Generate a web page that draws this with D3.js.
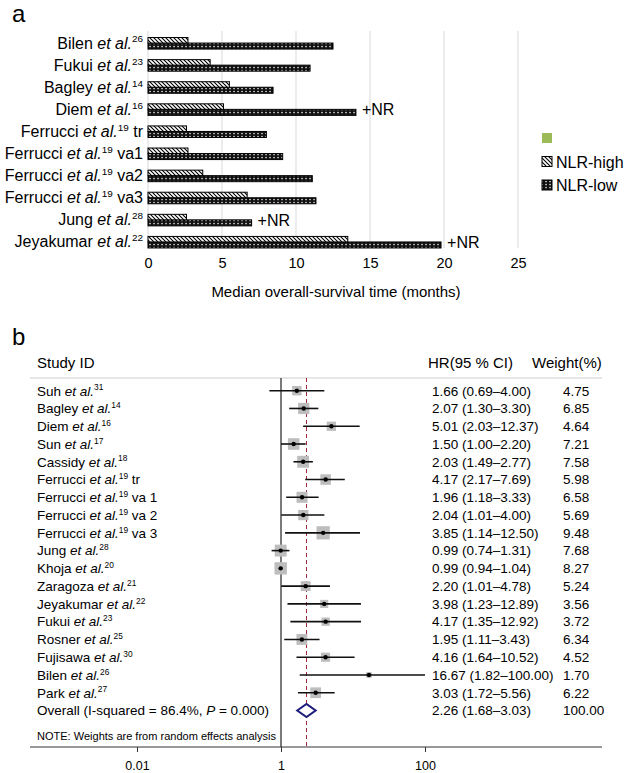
<!DOCTYPE html>
<html>
<head>
<meta charset="utf-8">
<script src="https://cdn.jsdelivr.net/npm/d3@7"></script>
<style>
  body { margin: 0; background: #fff; }
  svg { font-family: "Liberation Sans", Arial, Helvetica, sans-serif; }
</style>
</head>
<body>
<script>
// ---- panel a: median overall survival ----
const survAuthors = ["Bilen", "Fukui", "Bagley", "Diem", "Ferrucci", "Ferrucci", "Ferrucci", "Ferrucci", "Jung", "Jeyakumar"];
const survRefs = ["26", "23", "14", "16", "19", "19", "19", "19", "28", "22"];
const survSuffix = ["", "", "", "", "tr", "va1", "va2", "va3", "", ""];
const nlrHigh = [2.7, 4.2, 5.5, 5.1, 2.6, 2.7, 3.7, 6.7, 2.6, 13.5];
const nlrLow = [12.5, 10.95, 8.45, 14.05, 8.0, 9.1, 11.1, 11.35, 7.0, 19.8];
const notReached = [false, false, false, true, false, false, false, false, true, true];
const survTicks = [0, 5, 10, 15, 20, 25];
const legendLabels = ["", "NLR-high", "NLR-low"];

// ---- panel b: forest plot ----
const studyAuthors = ["Suh", "Bagley", "Diem", "Sun", "Cassidy", "Ferrucci", "Ferrucci", "Ferrucci", "Ferrucci",
  "Jung", "Khoja", "Zaragoza", "Jeyakumar", "Fukui", "Rosner", "Fujisawa", "Bilen", "Park"];
const studyRefs = ["31", "14", "16", "17", "18", "19", "19", "19", "19", "28", "20", "21", "22", "23", "25", "30", "26", "27"];
const studySuffix = ["", "", "", "", "", "tr", "va 1", "va 2", "va 3", "", "", "", "", "", "", "", "", ""];
const hr = [1.66, 2.07, 5.01, 1.50, 2.03, 4.17, 1.96, 2.04, 3.85, 0.99, 0.99, 2.20, 3.98, 4.17, 1.95, 4.16, 16.67, 3.03];
const hrLow = [0.69, 1.30, 2.03, 1.00, 1.49, 2.17, 1.18, 1.01, 1.14, 0.74, 0.94, 1.01, 1.23, 1.35, 1.11, 1.64, 1.82, 1.72];
const hrHigh = [4.00, 3.30, 12.37, 2.20, 2.77, 7.69, 3.33, 4.00, 12.50, 1.31, 1.04, 4.78, 12.89, 12.92, 3.43, 10.52, 100.00, 5.56];
const weights = [4.75, 6.85, 4.64, 7.21, 7.58, 5.98, 6.58, 5.69, 9.48, 7.68, 8.27, 5.24, 3.56, 3.72, 6.34, 4.52, 1.70, 6.22];
const overall = { hr: 2.26, low: 1.68, high: 3.03, weight: 100.00, i2: "86.4%", p: "0.000" };
const forestTicks = [0.01, 1, 100];

const svg = d3.select("body").append("svg")
  .attr("width", 626)
  .attr("height", 773);

// patterns
const defs = svg.append("defs");
const pHigh = defs.append("pattern").attr("id", "pHigh")
  .attr("patternUnits", "userSpaceOnUse").attr("width", 4).attr("height", 4);
pHigh.append("rect").attr("width", 4).attr("height", 4).attr("fill", "#fff");
pHigh.append("path").attr("d", "M-1,-1L5,5M3,-1L5,1M-1,3L1,5")
  .attr("stroke", "#000").attr("stroke-width", 1.1);
const pLow = defs.append("pattern").attr("id", "pLow")
  .attr("patternUnits", "userSpaceOnUse").attr("width", 4).attr("height", 3);
pLow.append("rect").attr("width", 4).attr("height", 3).attr("fill", "#111");
pLow.append("rect").attr("x", 1.4).attr("y", 0.9).attr("width", 1.3).attr("height", 1.3).attr("fill", "#fff");

// label helper: Author et al.^ref suffix
function studyLabel(sel, author, ref, suffix, size) {
  sel.append("tspan").text(author + " ");
  sel.append("tspan").attr("font-style", "italic").text("et al.");
  sel.append("tspan").attr("font-size", size * 0.62).attr("dy", -size * 0.38).text(ref);
  if (suffix) sel.append("tspan").attr("dy", size * 0.38).text(" " + suffix);
}

// ================= panel a =================
const ga = svg.append("g");
ga.append("text").attr("x", 12).attr("y", 22).attr("font-size", 24).text("a");

const x = d3.scaleLinear().domain([0, 25]).range([148, 518]);
const rows = d3.range(survAuthors.length);
const y = d3.scaleBand().domain(rows).range([32, 253]).paddingInner(0.5).paddingOuter(0.25);
const ySub = d3.scaleBand().domain(["high", "low"]).range([0, y.bandwidth()]);

ga.selectAll(".grid").data(survTicks).enter().append("line")
  .attr("x1", d => x(d)).attr("x2", d => x(d))
  .attr("y1", 31).attr("y2", 248)
  .attr("stroke", "#d9d9d9").attr("stroke-width", 1);

const xAxis = ga.append("g")
  .attr("transform", "translate(0,248)")
  .call(d3.axisBottom(x).tickValues(survTicks).tickSize(0).tickPadding(10));
xAxis.select(".domain").remove();
xAxis.selectAll("text").attr("font-size", 14.5).attr("font-family", "Liberation Sans, Arial, sans-serif").attr("fill", "#000");

ga.append("text").attr("x", 336).attr("y", 297).attr("text-anchor", "middle")
  .attr("font-size", 15).text("Median overall-survival time (months)");

rows.forEach(i => {
  ga.append("rect")
    .attr("x", x(0)).attr("y", y(i) + ySub("low"))
    .attr("width", x(nlrLow[i]) - x(0)).attr("height", ySub.bandwidth() + 0.5)
    .attr("fill", "url(#pLow)").attr("stroke", "#000").attr("stroke-width", 1);
  ga.append("rect")
    .attr("x", x(0)).attr("y", y(i) + ySub("high"))
    .attr("width", x(nlrHigh[i]) - x(0)).attr("height", ySub.bandwidth())
    .attr("fill", "url(#pHigh)").attr("stroke", "#000").attr("stroke-width", 1);
  const t = ga.append("text")
    .attr("x", 143).attr("y", y(i) + y.bandwidth() / 2 + 5.5)
    .attr("text-anchor", "end").attr("font-size", 16);
  studyLabel(t, survAuthors[i], survRefs[i], survSuffix[i], 16);
  if (notReached[i]) {
    ga.append("text")
      .attr("x", x(nlrLow[i]) + 6).attr("y", y(i) + y.bandwidth() / 2 + 6)
      .attr("font-size", 16).text("+NR");
  }
});

// legend
const legY = d3.scalePoint().domain(legendLabels.map((d, i) => i)).range([138, 185]);
const legFill = ["#9bbb59", "url(#pHigh)", "url(#pLow)"];
legendLabels.forEach((lab, i) => {
  ga.append("rect")
    .attr("x", 542).attr("y", legY(i) - 5).attr("width", 10).attr("height", 10)
    .attr("fill", legFill[i])
    .attr("stroke", i === 0 ? "none" : "#000").attr("stroke-width", 1);
  ga.append("text").attr("x", 556).attr("y", legY(i) + 6)
    .attr("font-size", 16).text(lab);
});

// ================= panel b =================
const gb = svg.append("g");
gb.append("text").attr("x", 12).attr("y", 345).attr("font-size", 24).text("b");
gb.append("text").attr("x", 37).attr("y", 368).attr("font-size", 15).text("Study ID");
gb.append("text").attr("x", 428).attr("y", 368).attr("font-size", 15).text("HR(95 % CI)");
gb.append("text").attr("x", 532).attr("y", 368).attr("font-size", 15).text("Weight(%)");
gb.append("line").attr("x1", 30).attr("x2", 602).attr("y1", 378).attr("y2", 378)
  .attr("stroke", "#cfcfcf").attr("stroke-width", 1.2);

const fx = d3.scaleLog().domain([0.01, 100]).range([137, 425]);
const fRows = d3.range(studyAuthors.length + 1);
const fy = d3.scalePoint().domain(fRows).range([390.7, 710.5]);

const axisY = 747;
gb.append("line").attr("x1", 30).attr("x2", 602).attr("y1", axisY).attr("y2", axisY)
  .attr("stroke", "#333").attr("stroke-width", 1);
const fAxis = gb.append("g").attr("transform", "translate(0," + axisY + ")")
  .call(d3.axisBottom(fx).tickValues(forestTicks).tickFormat(d => String(d)).tickSize(5).tickPadding(9));
fAxis.select(".domain").remove();
fAxis.selectAll("line").attr("stroke", "#333");
fAxis.selectAll("text").attr("font-size", 12.5).attr("font-family", "Liberation Sans, Arial, sans-serif").attr("fill", "#000");

// null line and overall dashed line
gb.append("line").attr("x1", fx(1)).attr("x2", fx(1)).attr("y1", 378).attr("y2", axisY)
  .attr("stroke", "#333").attr("stroke-width", 1.3);
gb.append("line").attr("x1", fx(overall.hr)).attr("x2", fx(overall.hr)).attr("y1", 378).attr("y2", axisY)
  .attr("stroke", "#9c2a3a").attr("stroke-width", 1).attr("stroke-dasharray", "4,3");

const fmt = d3.format(".2f");
studyAuthors.forEach((a, i) => {
  const cy = fy(i);
  const s = 4.3 * Math.sqrt(weights[i]);
  gb.append("rect").attr("x", fx(hr[i]) - s / 2).attr("y", cy - s / 2)
    .attr("width", s).attr("height", s).attr("fill", "#bdbdbd");
  gb.append("line").attr("x1", fx(hrLow[i])).attr("x2", fx(hrHigh[i]))
    .attr("y1", cy).attr("y2", cy).attr("stroke", "#111").attr("stroke-width", 1.6);
  gb.append("circle").attr("cx", fx(hr[i])).attr("cy", cy).attr("r", 2.2).attr("fill", "#000");

  const t = gb.append("text").attr("x", 37).attr("y", cy + 4.8).attr("font-size", 13.5);
  studyLabel(t, a, studyRefs[i], studySuffix[i], 13.5);
  gb.append("text").attr("x", 432).attr("y", cy + 4.8).attr("font-size", 13.5)
    .text(fmt(hr[i]) + " (" + fmt(hrLow[i]) + "\u2013" + fmt(hrHigh[i]) + ")");
  gb.append("text").attr("x", 563).attr("y", cy + 4.8).attr("font-size", 13.5)
    .text(fmt(weights[i]));
});

// overall row
const oy = fy(studyAuthors.length);
gb.append("path")
  .attr("d", "M" + fx(overall.low) + "," + oy + "L" + fx(overall.hr) + "," + (oy - 6.5) +
    "L" + fx(overall.high) + "," + oy + "L" + fx(overall.hr) + "," + (oy + 6.5) + "Z")
  .attr("fill", "#fff").attr("stroke", "#1c1c7c").attr("stroke-width", 2);
const ot = gb.append("text").attr("x", 37).attr("y", oy + 4.8).attr("font-size", 13.5);
ot.append("tspan").text("Overall (I-squared = " + overall.i2 + ", ");
ot.append("tspan").attr("font-style", "italic").text("P");
ot.append("tspan").text(" = " + overall.p + ")");
gb.append("text").attr("x", 432).attr("y", oy + 4.8).attr("font-size", 13.5)
  .text(fmt(overall.hr) + " (" + fmt(overall.low) + "\u2013" + fmt(overall.high) + ")");
gb.append("text").attr("x", 563).attr("y", oy + 4.8).attr("font-size", 13.5)
  .text(fmt(overall.weight));

gb.append("text").attr("x", 37).attr("y", 740).attr("font-size", 10)
  .attr("textLength", 239).attr("lengthAdjust", "spacingAndGlyphs")
  .text("NOTE: Weights are from random effects analysis");
</script>
</body>
</html>
